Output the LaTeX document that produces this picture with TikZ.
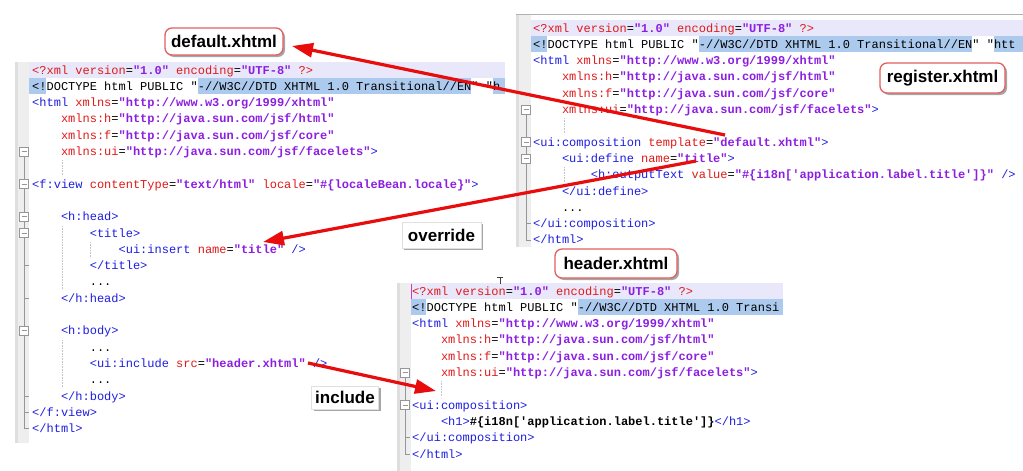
\documentclass[tikz,border=0pt]{standalone}
\usepackage{fontspec}
\setmainfont{Liberation Sans}
\setsansfont{Liberation Sans}
\setmonofont{Liberation Mono}
\usetikzlibrary{arrows.meta,shadows,calc}

\definecolor{tagc}{RGB}{30,30,225}
\definecolor{attc}{RGB}{225,25,25}
\definecolor{valc}{RGB}{140,30,225}
\definecolor{curline}{RGB}{232,232,250}
\definecolor{selc}{RGB}{172,202,238}
\definecolor{gut}{RGB}{238,238,238}
\definecolor{gutdark}{RGB}{222,222,222}
\definecolor{foldc}{RGB}{150,150,150}
\definecolor{guidec}{RGB}{195,195,195}
\definecolor{arrc}{RGB}{232,12,12}
\definecolor{lblborder}{RGB}{228,95,95}
\definecolor{caretc}{RGB}{200,60,200}

\newcommand\ctag[1]{\textcolor{tagc}{#1}}
\newcommand\cattr[1]{\textcolor{attc}{#1}}
\newcommand\cval[1]{\textcolor{valc}{\bfseries #1}}

\tikzset{
  code/.style={anchor=base west, inner sep=0pt, font=\ttfamily\fontsize{12}{14}\selectfont},
  lbl/.style={draw=lblborder, line width=1.3pt, rounded corners=7pt, fill=white,
    inner sep=0pt, font=\sffamily\bfseries\fontsize{17}{17}\selectfont,
    drop shadow={shadow xshift=2pt, shadow yshift=-2pt, opacity=0.35, fill=black}},
  tagbox/.style={draw=black!12, line width=0.5pt, fill=white,
    inner sep=0pt, font=\sffamily\bfseries\fontsize{17}{17}\selectfont,
    drop shadow={shadow xshift=2pt, shadow yshift=-2pt, opacity=0.35, fill=black}},
  arr/.style={draw=arrc, line width=3.2pt, -{Triangle[length=21pt,width=14pt]}},
  foldbox/.style={draw=foldc, fill=white, line width=0.6pt, minimum size=9pt, inner sep=0pt},
  foldline/.style={draw=foldc, line width=0.7pt},
  guide/.style={draw=guidec, line width=0.6pt, densely dotted},
}
\newcommand\fold[3]{% name, x, y
  \node[foldbox] (#1) at (#2,#3) {};
  \draw[foldc, line width=0.7pt] ($(#1.center)+(-2.5,0)$) -- ($(#1.center)+(2.5,0)$);
}

\begin{document}
\begin{tikzpicture}[x=1pt,y=-1pt]
\useasboundingbox (0,0) rectangle (1023,471);
\fill[white] (0,0) rectangle (1023,471);

%================ LEFT PANEL (default.xhtml) ================
\fill[gut] (15,62) rectangle (29,443);
\fill[gutdark] (15,62) rectangle (18,443);
\fill[curline] (29,{70-8.15}) rectangle (505,{70+8.15});
\fill[selc] (29,{86.3-8.15}) rectangle (45.5,{86.3+8.15});
\fill[selc] (197.6,{86.3-8.15}) rectangle (471.2,{86.3+8.15});
\fill[selc] (492.8,{86.3-8.15}) rectangle (505,{86.3+8.15});

\node[code] (l0) at (32,74) {\cattr{<?xml} \cattr{version}=\cval{"1.0"} \cattr{encoding}=\cval{"UTF-8"} \cattr{?>}};
\node[code] (l1) at (32,{74+16.3*1}) {<!DOCTYPE html PUBLIC "-//W3C//DTD XHTML 1.0 Transitional//EN" "h};
\node[code] (l2) at (32,{74+16.3*2}) {\ctag{<html} \cattr{xmlns}=\cval{"http://www.w3.org/1999/xhtml"}};
\node[code] (l3) at (60.8,{74+16.3*3}) {\cattr{xmlns:h}=\cval{"http://java.sun.com/jsf/html"}};
\node[code] (l4) at (60.8,{74+16.3*4}) {\cattr{xmlns:f}=\cval{"http://java.sun.com/jsf/core"}};
\node[code] (l5) at (60.8,{74+16.3*5}) {\cattr{xmlns:ui}=\cval{"http://java.sun.com/jsf/facelets"}\ctag{>}};
\node[code] (l7) at (32,{74+16.3*7}) {\ctag{<f:view} \cattr{contentType}=\cval{"text/html"} \cattr{locale}=\cval{"\#\{localeBean.locale\}"}\ctag{>}};
\node[code] (l9) at (60.8,{74+16.3*9}) {\ctag{<h:head>}};
\node[code] (l10) at (89.6,{74+16.3*10}) {\ctag{<title>}};
\node[code] (l11) at (118.4,{74+16.3*11}) {\ctag{<ui:insert} \cattr{name}=\cval{"title"} \ctag{/>}};
\node[code] (l12) at (89.6,{74+16.3*12}) {\ctag{</title>}};
\node[code] (l13) at (89.6,{74+16.3*13}) {...};
\node[code] (l14) at (60.8,{74+16.3*14}) {\ctag{</h:head>}};
\node[code] (l16) at (60.8,{74+16.3*16}) {\ctag{<h:body>}};
\node[code] (l17) at (89.6,{74+16.3*17}) {...};
\node[code] (l18) at (89.6,{74+16.3*18}) {\ctag{<ui:include} \cattr{src}=\cval{"header.xhtml"} \ctag{/>}};
\node[code] (l19) at (89.6,{74+16.3*19}) {...};
\node[code] (l20) at (60.8,{74+16.3*20}) {\ctag{</h:body>}};
\node[code] (l21) at (32,{74+16.3*21}) {\ctag{</f:view>}};
\node[code] (l22) at (32,{74+16.3*22}) {\ctag{</html>}};

% left gutter folds
\draw[foldline] (24,151.5) -- (24,428.6) -- (29,428.6);
\foreach \r in {12,14,20,21} \draw[foldline] (24,{70+16.3*\r}) -- (28.5,{70+16.3*\r});
\fold{lf5}{24}{151.5}
\fold{lf7}{24}{184.1}
\fold{lf9}{24}{216.7}
\fold{lf10}{24}{233}
\fold{lf16}{24}{330.8}
% indent guides
\draw[guide] (62,160) -- (62,176);
\draw[guide] (62,226) -- (62,290);
\draw[guide] (90.5,242) -- (90.5,258);
\draw[guide] (62,340) -- (62,388);

%================ TOP RIGHT PANEL (register.xhtml) ================
\fill[gut] (516,14) rectangle (531,247);
\fill[gutdark] (516,14) rectangle (519,247);
\draw[black!30, line width=0.8pt] (516,14) -- (1023,14);
\fill[curline] (531,{28-8.15}) rectangle (1023,{28+8.15});
\fill[selc] (531,{44.3-8.15}) rectangle (547,{44.3+8.15});
\fill[selc] (698.6,{44.3-8.15}) rectangle (972.2,{44.3+8.15});
\fill[selc] (993.8,{44.3-8.15}) rectangle (1023,{44.3+8.15});

\node[code] (r0) at (533,32) {\cattr{<?xml} \cattr{version}=\cval{"1.0"} \cattr{encoding}=\cval{"UTF-8"} \cattr{?>}};
\node[code] (r1) at (533,{32+16.3*1}) {<!DOCTYPE html PUBLIC "-//W3C//DTD XHTML 1.0 Transitional//EN" "htt};
\node[code] (r2) at (533,{32+16.3*2}) {\ctag{<html} \cattr{xmlns}=\cval{"http://www.w3.org/1999/xhtml"}};
\node[code] (r3) at (561.8,{32+16.3*3}) {\cattr{xmlns:h}=\cval{"http://java.sun.com/jsf/html"}};
\node[code] (r4) at (561.8,{32+16.3*4}) {\cattr{xmlns:f}=\cval{"http://java.sun.com/jsf/core"}};
\node[code] (r5) at (561.8,{32+16.3*5}) {\cattr{xmlns:ui}=\cval{"http://java.sun.com/jsf/facelets"}\ctag{>}};
\node[code] (r7) at (533,{32+16.3*7}) {\ctag{<ui:composition} \cattr{template}=\cval{"default.xhtml"}\ctag{>}};
\node[code] (r8) at (561.8,{32+16.3*8}) {\ctag{<ui:define} \cattr{name}=\cval{"title"}\ctag{>}};
\node[code] (r9) at (590.6,{32+16.3*9}) {\ctag{<h:outputText} \cattr{value}=\cval{"\#\{i18n['application.label.title']\}"} \ctag{/>}};
\node[code] (r10) at (561.8,{32+16.3*10}) {\ctag{</ui:define>}};
\node[code] (r11) at (561.8,{32+16.3*11}) {...};
\node[code] (r12) at (533,{32+16.3*12}) {\ctag{</ui:composition>}};
\node[code] (r13) at (533,{32+16.3*13}) {\ctag{</html>}};

\draw[foldline] (526,109.5) -- (526,239.9) -- (531,239.9);
\foreach \r in {10,12} \draw[foldline] (526,{28+16.3*\r}) -- (530.5,{28+16.3*\r});
\fold{rf5}{526}{109.5}
\fold{rf7}{526}{142.1}
\fold{rf8}{526}{158.4}
\draw[guide] (564,118) -- (564,134);
\draw[guide] (564,167) -- (564,183);

%================ BOTTOM RIGHT PANEL (header.xhtml) ================
\fill[gut] (397,283) rectangle (411,471);
\fill[gutdark] (397,283) rectangle (400,471);
\fill[curline] (411,{291-8.15}) rectangle (783,{291+8.15});
\fill[selc] (411,{307.3-8.15}) rectangle (426,{307.3+8.15});
\fill[selc] (577.6,{307.3-8.15}) rectangle (783,{307.3+8.15});

\node[code] (h0) at (412,295) {\cattr{<?xml} \cattr{version}=\cval{"1.0"} \cattr{encoding}=\cval{"UTF-8"} \cattr{?>}};
\node[code] (h1) at (412,{295+16.3*1}) {<!DOCTYPE html PUBLIC "-//W3C//DTD XHTML 1.0 Transi};
\node[code] (h2) at (412,{295+16.3*2}) {\ctag{<html} \cattr{xmlns}=\cval{"http://www.w3.org/1999/xhtml"}};
\node[code] (h3) at (440.8,{295+16.3*3}) {\cattr{xmlns:h}=\cval{"http://java.sun.com/jsf/html"}};
\node[code] (h4) at (440.8,{295+16.3*4}) {\cattr{xmlns:f}=\cval{"http://java.sun.com/jsf/core"}};
\node[code] (h5) at (440.8,{295+16.3*5}) {\cattr{xmlns:ui}=\cval{"http://java.sun.com/jsf/facelets"}\ctag{>}};
\node[code] (h7) at (412,{295+16.3*7}) {\ctag{<ui:composition>}};
\node[code] (h8) at (440.8,{295+16.3*8}) {\ctag{<h1>}\textbf{\#\{i18n['application.label.title']\}}\ctag{</h1>}};
\node[code] (h9) at (412,{295+16.3*9}) {\ctag{</ui:composition>}};
\node[code] (h10) at (412,{295+16.3*10}) {\ctag{</html>}};
\draw[caretc, line width=0.9pt] (411.8,283.5) -- (411.8,298.5);

\draw[foldline] (405,372.5) -- (405,454) -- (410,454);
\draw[foldline] (405,437.7) -- (409.5,437.7);
\fold{hf5}{405}{372.5}
\fold{hf7}{405}{405.1}
\draw[guide] (441,381) -- (441,397);

% mouse I-beam cursor
\draw[black!75, line width=0.8pt] (497,277.5) -- (503,277.5) (500,277.5) -- (500,284);

%================ ARROWS ================
\coordinate (a1s) at (725,135);
\coordinate (a1e) at (292,46);
\coordinate (a2s) at (696,161);
\coordinate (a2e) at (263,242);
\coordinate (a3s) at (308,363);
\coordinate (a3e) at (436,391);
\draw[arr] (a1s) -- (a1e);
\draw[arr] (a2s) -- (a2e);
\draw[arr] (a3s) -- (a3e);

%================ LABELS ================
\node[lbl, minimum width=118pt, minimum height=27pt] (dflt) at (224,41.5) {default.xhtml};
\node[lbl, minimum width=125pt, minimum height=30pt] (reg) at (942.5,78) {register.xhtml};
\node[lbl, minimum width=122pt, minimum height=29pt] (hdr) at (616,263.5) {header.xhtml};
\node[tagbox, minimum width=79pt, minimum height=26pt] (ovr) at (441.5,235) {override};
\node[tagbox, minimum width=67pt, minimum height=23pt] (inc) at (345,397.5) {include};
\end{tikzpicture}
\end{document}
